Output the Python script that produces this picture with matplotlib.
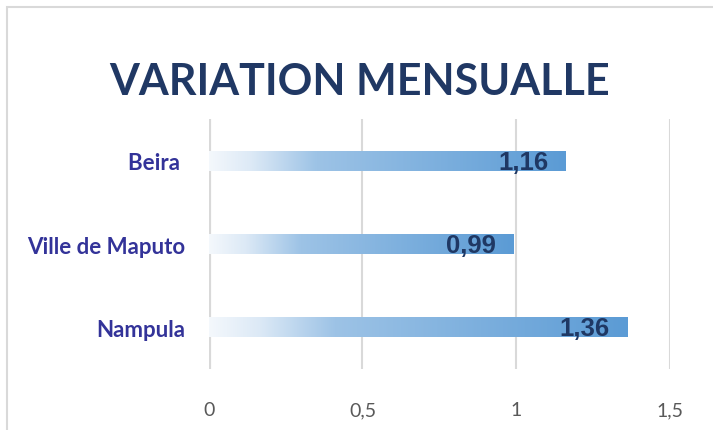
import numpy as np
import matplotlib
matplotlib.use('Agg')
import matplotlib.pyplot as plt
from matplotlib.colors import LinearSegmentedColormap
from matplotlib.patches import Rectangle

# Data
categories = ['Nampula', 'Ville de Maputo', 'Beira ']
values = [1.36, 0.99, 1.16]
value_labels = ['1,36', '0,99', '1,16']
x_ticks = [0, 0.5, 1, 1.5]
x_tick_labels = ['0', '0,5', '1', '1,5']
title = 'VARIATION MENSUALLE'

W, H = 713, 431
fig = plt.figure(figsize=(W / 100, H / 100), dpi=100)

# chart border
fig.patches.append(Rectangle((7 / W, -0.1), 1.2, 1 - 8 / H + 0.1, transform=fig.transFigure,
                             fill=False, edgecolor='#D9D9D9', linewidth=1.5))

ax = fig.add_axes([208.7 / W, 1 - 370 / H, (670 - 208.7) / W, 250 / H])
ax.set_xlim(0, 1.5)
ax.set_ylim(-0.5, 2.5)

grad = LinearSegmentedColormap.from_list('bar', [(0, '#F4F8FC'), (0.12, '#DCE9F6'),
                                                 (0.3, '#9DC3E6'), (1, '#5B9BD5')])
bar_h = 0.24
for i, v in enumerate(values):
    img = np.linspace(0, 1, 256).reshape(1, -1)
    ax.imshow(img, cmap=grad, aspect='auto', extent=[0, v, i - bar_h / 2, i + bar_h / 2],
              zorder=2, interpolation='bilinear')
    ax.annotate(value_labels[i], xy=(v, i), xytext=(-17, -1), textcoords='offset pixels',
                ha='right', va='center', fontsize=18.5, fontweight='bold',
                family='Liberation Sans', color='#1F3864', zorder=3)

ax.set_xticks(x_ticks)
ax.set_xticklabels(x_tick_labels, family='Lato', fontsize=14, color='#595959')
ax.set_yticks(range(len(categories)))
ax.set_yticklabels(categories, family='Lato', fontsize=16, fontweight='bold', color='#333399')
ax.tick_params(axis='both', length=0)
ax.tick_params(axis='x', pad=23)
ax.tick_params(axis='y', pad=17)
for s in ax.spines.values():
    s.set_visible(False)
for t in x_ticks:
    ax.axvline(t, color='#D9D9D9', linewidth=3 if t == 0 else 1.5, zorder=1)

fig.text(360 / W, 1 - 82 / H, title, ha='center', va='center', family='Lato',
         fontweight='bold', fontsize=31, color='#203864')

fig.savefig('out.png', dpi=100)
